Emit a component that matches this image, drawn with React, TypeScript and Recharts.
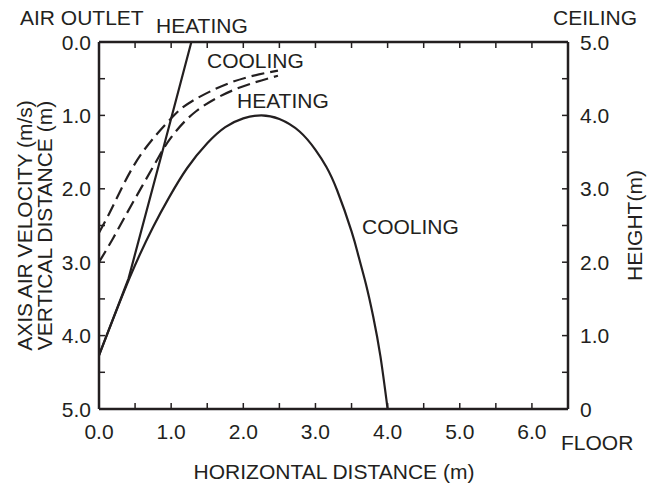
import React from "react";
import { LineChart, Line, XAxis, YAxis } from "recharts";

const steepHeating = [
  { x: 0, y: 4.27 },
  { x: 0.41, y: 3.22 },
  { x: 0.89, y: 1.45 },
  { x: 1.28, y: 0 },
];

const mainCurve = [
  { x: 0, y: 4.27 },
  { x: 0.43, y: 3.2 },
  { x: 0.75, y: 2.52 },
  { x: 0.97, y: 2.12 },
  { x: 1.22, y: 1.72 },
  { x: 1.5, y: 1.38 },
  { x: 1.75, y: 1.16 },
  { x: 2.0, y: 1.04 },
  { x: 2.25, y: 1.0 },
  { x: 2.5, y: 1.05 },
  { x: 2.78, y: 1.22 },
  { x: 3.0, y: 1.47 },
  { x: 3.15, y: 1.7 },
  { x: 3.3, y: 2.02 },
  { x: 3.5, y: 2.58 },
  { x: 3.6, y: 2.93 },
  { x: 3.7, y: 3.3 },
  { x: 3.8, y: 3.74 },
  { x: 3.9, y: 4.28 },
  { x: 4.0, y: 5.0 },
];

const dashedUpper = [
  { x: 0, y: 2.6 },
  { x: 0.13, y: 2.36 },
  { x: 0.29, y: 2.04 },
  { x: 0.59, y: 1.52 },
  { x: 1.0, y: 1.04 },
  { x: 1.3, y: 0.8 },
  { x: 1.86, y: 0.54 },
  { x: 2.48, y: 0.39 },
];

const dashedLower = [
  { x: 0, y: 3.0 },
  { x: 0.18, y: 2.7 },
  { x: 0.36, y: 2.38 },
  { x: 0.6, y: 1.96 },
  { x: 0.82, y: 1.58 },
  { x: 1.0, y: 1.3 },
  { x: 1.35, y: 0.94 },
  { x: 1.9, y: 0.64 },
  { x: 2.48, y: 0.46 },
];

const xTicks = [0, 0.5, 1, 1.5, 2, 2.5, 3, 3.5, 4, 4.5, 5, 5.5, 6];
const yTicks = [0, 0.5, 1, 1.5, 2, 2.5, 3, 3.5, 4, 4.5, 5];

const INK = "#231f20";
const FONT = "'Liberation Sans', Arial, Helvetica, sans-serif";
const FS = 21;

const isMajor = (v: number) => Math.abs(v - Math.round(v)) < 1e-6;

const BottomTick = (p: any) => {
  const { x, y, payload } = p;
  const v = payload.value;
  return (
    <g>
      <line x1={x} x2={x} y1={y} y2={y - 6} stroke={INK} strokeWidth={1.5} />
      {isMajor(v) && (
        <text x={x} y={y + 30} textAnchor="middle" fill={INK} fontSize={FS} fontFamily={FONT}>
          {v.toFixed(1)}
        </text>
      )}
    </g>
  );
};

const TopTick = (p: any) => {
  const { x, y } = p;
  return <line x1={x} x2={x} y1={y} y2={y + 6} stroke={INK} strokeWidth={1.5} />;
};

const LeftTick = (p: any) => {
  const { x, y, payload } = p;
  const v = payload.value;
  return (
    <g>
      <line x1={x} x2={x + 6} y1={y} y2={y} stroke={INK} strokeWidth={1.5} />
      {isMajor(v) && (
        <text x={x - 8} y={y + 7.5} textAnchor="end" fill={INK} fontSize={FS} fontFamily={FONT}>
          {v.toFixed(1)}
        </text>
      )}
    </g>
  );
};

const RightTick = (p: any) => {
  const { x, y, payload } = p;
  const v = payload.value;
  return (
    <g>
      <line x1={x} x2={x - 6} y1={y} y2={y} stroke={INK} strokeWidth={1.5} />
      {isMajor(v) && (
        <text x={x + 12} y={y + 7.5} textAnchor="start" fill={INK} fontSize={FS} fontFamily={FONT}>
          {v === 0 ? "0" : v.toFixed(1)}
        </text>
      )}
    </g>
  );
};

const axisLine = { stroke: INK, strokeWidth: 2.5 };

const txt = { fill: INK, fontSize: FS, fontFamily: FONT } as const;

export default function App() {
  return (
    <div style={{ position: "absolute", left: 0, top: 0, width: 655, height: 490, background: "#fff" }}>
      <LineChart width={655} height={490} margin={{ top: 32, right: 0, bottom: 0, left: 0 }}>
        <XAxis
          xAxisId="bottom"
          type="number"
          dataKey="x"
          domain={[0, 6.5]}
          allowDataOverflow
          ticks={xTicks}
          orientation="bottom"
          height={81}
          axisLine={axisLine}
          tickLine={false}
          tickSize={0}
          tickMargin={0}
          tick={BottomTick}
          interval={0}
        />
        <XAxis
          xAxisId="top"
          type="number"
          dataKey="x"
          domain={[0, 6.5]}
          allowDataOverflow
          ticks={xTicks}
          orientation="top"
          height={10}
          axisLine={axisLine}
          tickLine={false}
          tickSize={0}
          tickMargin={0}
          tick={TopTick}
          interval={0}
        />
        <YAxis
          yAxisId="left"
          type="number"
          domain={[0, 5]}
          reversed
          ticks={yTicks}
          orientation="left"
          width={99}
          axisLine={axisLine}
          tickLine={false}
          tickSize={0}
          tickMargin={0}
          tick={LeftTick}
          interval={0}
        />
        <YAxis
          yAxisId="right"
          type="number"
          domain={[0, 5]}
          allowDataOverflow
          ticks={yTicks}
          orientation="right"
          width={87}
          axisLine={axisLine}
          tickLine={false}
          tickSize={0}
          tickMargin={0}
          tick={RightTick}
          interval={0}
        />
        <Line
          xAxisId="bottom"
          yAxisId="left"
          data={steepHeating}
          dataKey="y"
          type="linear"
          stroke={INK}
          strokeWidth={2.2}
          dot={false}
          isAnimationActive={false}
        />
        <Line
          xAxisId="bottom"
          yAxisId="left"
          data={mainCurve}
          dataKey="y"
          type="natural"
          stroke={INK}
          strokeWidth={2.2}
          dot={false}
          isAnimationActive={false}
        />
        <Line
          xAxisId="bottom"
          yAxisId="left"
          data={dashedUpper}
          dataKey="y"
          type="natural"
          stroke={INK}
          strokeWidth={2.2}
          strokeDasharray="13 6"
          dot={false}
          isAnimationActive={false}
        />
        <Line
          xAxisId="bottom"
          yAxisId="left"
          data={dashedLower}
          dataKey="y"
          type="natural"
          stroke={INK}
          strokeWidth={2.2}
          strokeDasharray="13 6"
          dot={false}
          isAnimationActive={false}
        />
      </LineChart>
      <svg
        width={655}
        height={490}
        style={{ position: "absolute", left: 0, top: 0, pointerEvents: "none" }}
      >
        <text x={20} y={25} {...txt}>AIR OUTLET</text>
        <text x={156} y={33} {...txt}>HEATING</text>
        <text x={207} y={68} {...txt}>COOLING</text>
        <text x={237} y={108} {...txt}>HEATING</text>
        <text x={362} y={234} {...txt}>COOLING</text>
        <text x={553} y={25} {...txt}>CEILING</text>
        <text x={561} y={450} {...txt}>FLOOR</text>
        <text x={334} y={479} textAnchor="middle" {...txt}>HORIZONTAL DISTANCE (m)</text>
        <text transform="translate(31.5,225.5) rotate(-90)" textAnchor="middle" {...txt}>
          AXIS AIR VELOCITY (m/s)
        </text>
        <text transform="translate(51.5,225.5) rotate(-90)" textAnchor="middle" {...txt}>
          VERTICAL DISTANCE (m)
        </text>
        <text transform="translate(642,225.5) rotate(-90)" textAnchor="middle" {...txt}>
          HEIGHT(m)
        </text>
      </svg>
    </div>
  );
}
